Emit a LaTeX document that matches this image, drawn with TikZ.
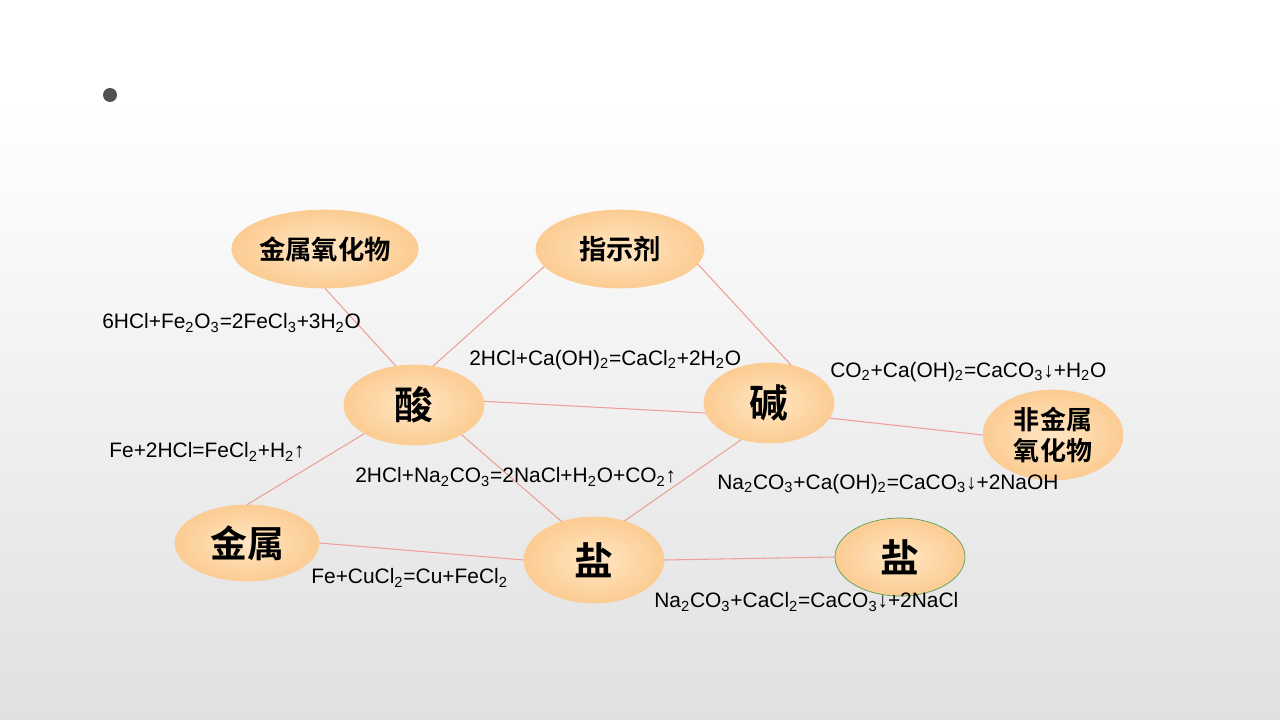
\documentclass[tikz,border=0pt]{standalone}
\usepackage{fontspec}
\setmainfont{Liberation Sans}
\newfontfamily\cjk{Noto Sans CJK SC}[BoldFont={* Bold}]
\usetikzlibrary{positioning, shapes.geometric}
\definecolor{peachin}{RGB}{255,230,196}
\definecolor{peachout}{RGB}{252,204,146}
\definecolor{peachline}{RGB}{250,205,150}
\definecolor{linkred}{RGB}{236,160,150}
\definecolor{saltgreen}{RGB}{90,160,90}
\newcommand{\sub}[1]{\textsubscript{#1}}
\tikzset{
	topic/.style={draw=peachline, ellipse, inner color=peachin, outer color=peachout, inner sep=0pt, font=\cjk\bfseries},
	link/.style={draw=linkred, line width=0.6pt},
	eqn/.style={anchor=west, inner sep=0pt, font=\fontsize{11.9}{14}\selectfont}
}

\begin{document}
\begin{tikzpicture}[x=0.2mm, y=-0.2mm]
	\useasboundingbox (0, 0) rectangle (1280, 720);
	\fill[white] (0, 0) rectangle (1280, 100);
	\shade[top color=white, bottom color=black!12] (0, 100) rectangle (1280, 720);
	\fill[black!68] (110, 95) circle (7);

	\node[topic, minimum width=36mm, minimum height=15.6mm, font=\cjk\bfseries\fontsize{15}{17}\selectfont] (metaloxide) at (325, 249) {金属氧化物};
	\node[topic, minimum width=33.6mm, minimum height=15.6mm, font=\cjk\bfseries\fontsize{15.5}{17}\selectfont] (indicator) at (620, 249) {指示剂};
	\node[topic, minimum width=28mm, minimum height=16mm, font=\cjk\bfseries\fontsize{22}{24}\selectfont] (acid) at (414, 405) {酸};
	\node[topic, minimum width=26mm, minimum height=16mm, font=\cjk\bfseries\fontsize{22}{24}\selectfont] (base) at (769, 403) {碱};
	\node[topic, minimum width=28mm, minimum height=18mm, align=center, font=\cjk\bfseries\fontsize{14.8}{18}\selectfont] (nonmetaloxide) at (1053, 435) {非金属\\氧化物};
	\node[topic, minimum width=28.8mm, minimum height=15.2mm, font=\cjk\bfseries\fontsize{21}{23}\selectfont] (metal) at (247, 543) {金属};
	\node[topic, minimum width=28mm, minimum height=17.2mm, font=\cjk\bfseries\fontsize{22}{24}\selectfont] (salt) at (594, 560) {盐};
	\node[topic, draw=saltgreen, minimum width=26mm, minimum height=15.6mm, font=\cjk\bfseries\fontsize{22}{24}\selectfont] (salt2) at (900, 557) {盐};

	\draw[link] (metaloxide.south) -- (acid.115);
	\draw[link] (indicator.193) -- (acid.64);
	\draw[link] (indicator.-11) -- (base.60);
	\draw[link] (acid.3) -- (base.189);
	\draw[link] (base.-14) -- (nonmetaloxide.west);
	\draw[link] (acid.210) -- (metal.north);
	\draw[link] (acid.-32) -- (salt.130);
	\draw[link] (base.233) -- (salt.52);
	\draw[link] (metal.east) -- (salt.west);
	\draw[link] (salt.east) -- (salt2.west);

	\node[eqn] (eqmetaloxide) at (102, 323) {6HCl+Fe\sub{2}O\sub{3}=2FeCl\sub{3}+3H\sub{2}O};
	\node[eqn] (eqbase) at (469, 360) {2HCl+Ca(OH)\sub{2}=CaCl\sub{2}+2H\sub{2}O};
	\node[eqn] (eqnonmetal) at (830, 372) {CO\sub{2}+Ca(OH)\sub{2}=CaCO\sub{3}↓+H\sub{2}O};
	\node[eqn] (eqmetal) at (109, 452) {Fe+2HCl=FeCl\sub{2}+H\sub{2}↑};
	\node[eqn] (eqsalt) at (355, 477) {2HCl+Na\sub{2}CO\sub{3}=2NaCl+H\sub{2}O+CO\sub{2}↑};
	\node[eqn] (eqbasesalt) at (717, 484) {Na\sub{2}CO\sub{3}+Ca(OH)\sub{2}=CaCO\sub{3}↓+2NaOH};
	\node[eqn] (eqmetalsalt) at (311, 578) {Fe+CuCl\sub{2}=Cu+FeCl\sub{2}};
	\node[eqn] (eqsaltsalt) at (654, 602) {Na\sub{2}CO\sub{3}+CaCl\sub{2}=CaCO\sub{3}↓+2NaCl};
\end{tikzpicture}
\end{document}
